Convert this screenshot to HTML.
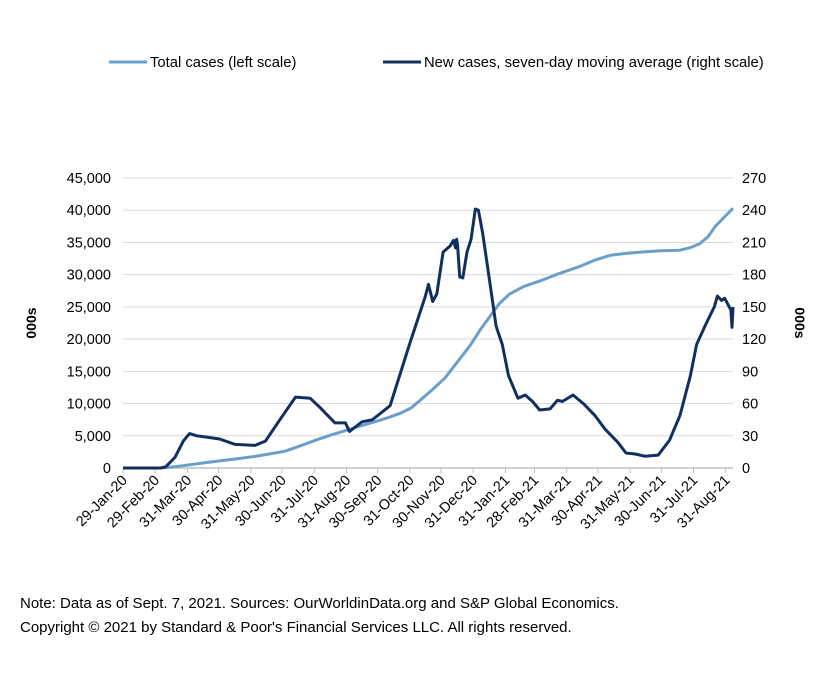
<!DOCTYPE html>
<html><head><meta charset="utf-8"><style>
body{margin:0;background:#fff;font-family:"Liberation Sans",Arial,sans-serif}
svg{display:block}
</style></head><body>
<svg id="c" width="834" height="674" xmlns="http://www.w3.org/2000/svg" font-family="Liberation Sans, Arial, sans-serif">
<g id="legend">
<g><line x1="109" y1="62" x2="147" y2="62" stroke="#6b9fcb" stroke-width="3"/><text x="150" y="67" font-size="14.8">Total cases (left scale)</text></g>
<g><line x1="383" y1="62" x2="421" y2="62" stroke="#12305f" stroke-width="3"/><text x="424" y="67" font-size="14.8">New cases, seven-day moving average (right scale)</text></g>
</g>
<g id="grid"></g>
<g id="axes"></g>
<g id="series"></g>
<text x="36" y="323" font-size="14" font-weight="bold" text-anchor="middle" transform="rotate(-90 36 323)">000s</text>
<text x="795" y="323" font-size="14" font-weight="bold" text-anchor="middle" transform="rotate(90 795 323)">000s</text>
<text x="20" y="608" font-size="15">Note: Data as of Sept. 7, 2021. Sources: OurWorldinData.org and S&amp;P Global Economics.</text>
<text x="20" y="632" font-size="15">Copyright © 2021 by Standard &amp; Poor's Financial Services LLC. All rights reserved.</text>
</svg>
<script>
const monthLabels=["29-Jan-20","29-Feb-20","31-Mar-20","30-Apr-20","31-May-20","30-Jun-20","31-Jul-20","31-Aug-20","30-Sep-20","31-Oct-20","30-Nov-20","31-Dec-20","31-Jan-21","28-Feb-21","31-Mar-21","30-Apr-21","31-May-21","30-Jun-21","31-Jul-21","31-Aug-21"];
const monthDays=[0,31,62,92,123,153,184,215,245,276,306,337,368,396,427,457,488,518,549,580];
const leftTicks=[0,5000,10000,15000,20000,25000,30000,35000,40000,45000];
const rightTicks=[0,30,60,90,120,150,180,210,240,270];
const newDays=[0,36,41,50,58,64,71,79,93,108,127,137,151,166,180,190,204,214,218,230,240,257,276,291,294,298,302,308,315,318,320,321,322,324,327,331,335,339,342,346,353,359,365,371,380,387,394,401,411,418,423,433,443,454,464,476,484,493,502,515,526,536,546,552,560,569,572,576,579,585,586,587];
const newVals=[0,0,1,10,25,32,30,29,27,22,21,25,45,66,65,56,42,42,34,43,45,58,116,160,171,155,162,201,207,212,205,213,207,178,177,201,213,241,240,219,173,132,115,86,65,68,62,54,55,63,62,68,60,49,36,24,14,13,11,12,26,49,86,115,132,150,160,156,158,147,131,150];
const totDays=[0,36,50,64,79,93,110,127,140,156,170,185,200,214,228,243,255,267,277,286,298,310,322,334,344,353,362,372,386,401,420,440,455,469,484,498,517,536,546,555,563,570,579,587];
const totVals=[0,0,200,500,800,1100,1450,1800,2150,2600,3400,4300,5100,5800,6500,7200,7800,8500,9300,10500,12200,14000,16500,19000,21500,23500,25500,27000,28200,29000,30200,31300,32300,33000,33300,33500,33700,33800,34200,34800,35900,37500,39000,40300];

const NS="http://www.w3.org/2000/svg";
const X0=123,X1=733,Y0=468,Y1=178,DMAX=587;
const x=d=>X0+d*(X1-X0)/DMAX;
const yL=v=>Y0-v*(Y0-Y1)/45000;
const yR=v=>Y0-v*(Y0-Y1)/270;
function mk(t,a,p){const e=document.createElementNS(NS,t);for(const k in a)e.setAttribute(k,a[k]);p.appendChild(e);return e;}
const grid=document.getElementById('grid'),axes=document.getElementById('axes'),series=document.getElementById('series');
leftTicks.forEach((v,i)=>{
  if(v>0){const g=mk('line',{x1:X0,x2:X1,y1:yL(v),y2:yL(v),stroke:'#d9d9d9','stroke-width':1},grid);
  
  }
  const t=mk('text',{x:X0-12,y:yL(v)+5,'font-size':14.5,'text-anchor':'end'},axes);t.textContent=v.toLocaleString('en-US');
  
  
});
rightTicks.forEach(v=>{
  const t=mk('text',{x:X1+9,y:yR(v)+5,'font-size':14.5},axes);t.textContent=v;
  
  
});
const ax=mk('line',{x1:X0,x2:X1,y1:Y0,y2:Y0,stroke:'#bfbfbf','stroke-width':1.5},axes);


monthDays.forEach((d,i)=>{
  const tx=x(d);
  const tk=mk('line',{x1:tx,x2:tx,y1:Y0,y2:Y0+5,stroke:'#bfbfbf','stroke-width':1},axes);
  
  
  const t=mk('text',{x:tx+5,y:Y0+13,'font-size':14.5,'text-anchor':'end',transform:`rotate(-45 ${tx+5} ${Y0+13})`},axes);
  t.textContent=monthLabels[i];
  
  
});
const pt=totDays.map((d,i)=>x(d).toFixed(1)+','+yL(totVals[i]).toFixed(1)).join(' ');
const l1=mk('polyline',{points:pt,fill:'none',stroke:'#6b9fcb','stroke-width':3,'stroke-linejoin':'round'},series);


const pn=newDays.map((d,i)=>x(d).toFixed(1)+','+yR(newVals[i]).toFixed(1)).join(' ');
const l2=mk('polyline',{points:pn,fill:'none',stroke:'#12305f','stroke-width':3,'stroke-linejoin':'round'},series);


</script>
</body></html>
